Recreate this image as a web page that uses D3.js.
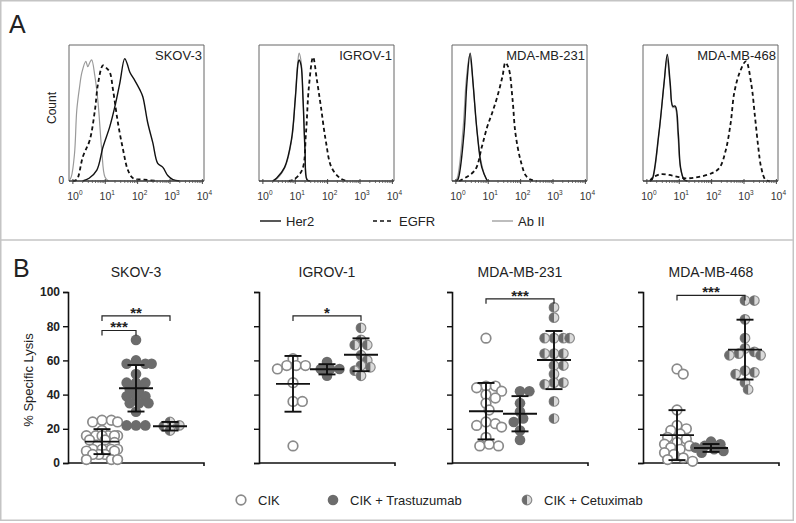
<!DOCTYPE html>
<html><head><meta charset="utf-8">
<script src="https://cdn.jsdelivr.net/npm/d3@7/dist/d3.min.js"></script>
<style>body{margin:0;background:#fff}svg{display:block;font-family:'Liberation Sans',Arial,sans-serif}</style>
</head><body><svg id="c" width="796" height="523"></svg>
<script>
// ---------- Panel A data: flow cytometry histograms (log10 intensity, % of max count)
const cellLines = ["SKOV-3", "IGROV-1", "MDA-MB-231", "MDA-MB-468"];
const histTicks = [0, 1, 2, 3, 4];
const her2Hist = [
  [[0.3,0],[0.5,2],[0.74,8],[0.93,25],[1.14,40],[1.3,55],[1.45,72],[1.6,90],[1.68,86],[1.76,80],[1.91,74],[2.07,67],[2.16,62],[2.31,43],[2.47,28],[2.62,13],[2.78,10],[2.93,4],[3.09,1],[3.3,0]],
  [[0.3,0],[0.42,2],[0.67,10],[0.88,30],[1.0,60],[1.09,87],[1.12,89],[1.18,85],[1.24,60],[1.3,23],[1.36,1],[1.45,0]],
  [[0,0],[0.06,1],[0.25,35],[0.34,72],[0.44,94],[0.53,72],[0.66,35],[0.8,10],[0.97,0]],
  [[0.1,0],[0.16,1],[0.37,35],[0.53,72],[0.63,93],[0.72,72],[0.8,55],[0.88,55],[0.97,35],[1.04,10],[1.15,1],[1.25,0]]
];
const egfrHist = [
  [[0.0,0],[0.12,1],[0.31,18],[0.52,30],[0.68,52],[0.78,72],[0.93,85],[1.04,83],[1.14,80],[1.24,67],[1.39,43],[1.55,23],[1.7,8],[1.86,2],[2.2,1],[2.6,0]],
  [[0.8,0],[0.95,1],[1.21,8],[1.33,35],[1.42,69],[1.55,91],[1.67,74],[1.79,55],[1.94,30],[2.12,10],[2.39,2],[2.6,0]],
  [[0.1,0],[0.19,1],[0.59,8],[0.8,25],[0.97,40],[1.12,50],[1.28,62],[1.44,77],[1.53,87],[1.63,83],[1.75,60],[1.84,35],[2.0,15],[2.16,4],[2.31,1],[2.5,0]],
  [[0.1,0],[0.16,2],[0.41,5],[0.78,4],[1.19,2],[1.61,3],[2.03,6],[2.25,10],[2.44,23],[2.59,43],[2.7,65],[2.87,80],[3.06,88],[3.22,72],[3.34,47],[3.44,25],[3.53,10],[3.66,1],[3.8,0]]
];
const abIIHist = [
  [[-0.12,0],[-0.05,3],[0.05,20],[0.12,52],[0.2,68],[0.28,80],[0.4,88],[0.46,84],[0.52,87],[0.58,89],[0.68,77],[0.78,57],[0.89,23],[0.99,3],[1.1,0]],
  [[0.3,0],[0.45,2],[0.7,11],[0.9,32],[1.0,62],[1.08,88],[1.12,94],[1.18,88],[1.24,62],[1.3,25],[1.37,1],[1.45,0]],
  [[-0.02,0],[0.04,2],[0.22,38],[0.32,74],[0.42,92],[0.5,80],[0.62,45],[0.78,14],[0.95,1],[1.05,0]],
  [[0.1,0],[0.18,2],[0.38,36],[0.54,74],[0.62,90],[0.72,70],[0.8,54],[0.87,54],[0.96,33],[1.04,9],[1.15,1],[1.25,0]]
];
const histLegend = ["Her2", "EGFR", "Ab II"];

// ---------- Panel B data: % specific lysis
const groups = ["CIK", "CIK + Trastuzumab", "CIK + Cetuximab"];
const lysisTicks = [0, 20, 40, 60, 80, 100];
const cikLysis = [
  [25,25,24,24,19,16,16,16,16,16,16,13.5,13.5,12,8,8,8,8,7,7,5,5,5,2,2,2],
  [61,57,57,57,55,47,36,36,10],
  [73,45,44,45,42,40,38,35,31,24,23,22,21,15,11,10,10],
  [55,52,31,22,20,19,17,15,14,12,11,10,9,8,6,5,3,2,1]
];
const trastuzumabLysis = [
  [72,60,58,58,58,52,47,47,47,43,43,39,39,39,35,35,35,30,22,22,22],
  [59,55,55,55,51],
  [42,42,35,30,26,24,19,13.5],
  [12.5,11,10,9,8,7,6]
];
const cetuximabLysis = [
  [24,22,21.5,19],
  [79,72,69,69,63,60,57,56,54,51],
  [91,85,73,73,73,73,64,64,64,57,57,52,47,47,46,36,26],
  [95,95,84,73,67,65,64,63,63,54,53,52,47,43]
];
const lysisMean = [[12.5,43.7,21.5],[46.3,54.8,63.3],[30.3,28.8,60.2],[16.3,8.8,66.3]];
const lysisSD   = [[7.3,13.6,2.5],[16.3,3.0,9.6],[16.5,10.3,17.0],[14.6,2.3,17.5]];
// significance: [groupA, groupB, level(% lysis), label]
const significance = [
  [[0,1,77.5,"***"],[0,2,86,"**"]],
  [[0,2,86,"*"]],
  [[0,2,96,"***"]],
  [[0,2,98,"***"]]
];

// ---------- drawing
const svg = d3.select("#c");
const FONT = "'Liberation Sans',Arial,sans-serif";
svg.append("rect").attr("x",0.75).attr("y",0.75).attr("width",792.5).attr("height",519.5)
  .attr("fill","none").attr("stroke","#c4c4c4").attr("stroke-width",1.5);
svg.append("line").attr("x1",0).attr("x2",794).attr("y1",240).attr("y2",240).attr("stroke","#c4c4c4").attr("stroke-width",1.5);
svg.append("text").attr("x",9).attr("y",33).attr("font-size",25).attr("fill","#222").text("A");
svg.append("text").attr("x",13).attr("y",277).attr("font-size",25).attr("fill","#222").text("B");

const lefts = [69, 259, 452, 643];
const W = 135;
const hTop = 45, hBot = 181;
const yH = d3.scaleLinear().domain([0,100]).range([hBot, hTop]);

cellLines.forEach((name, i) => {
  const g = svg.append("g");
  const x = d3.scaleLinear().domain([-0.12, 4.05]).range([lefts[i], lefts[i]+W]);
  g.append("path").attr("d", `M${lefts[i]},${hBot}V${hTop}H${lefts[i]+W}V${hBot}`)
    .attr("fill","none").attr("stroke","#666").attr("stroke-width",1);
  const line = d3.line().x(d => x(d[0])).y(d => yH(d[1])).curve(d3.curveCatmullRom.alpha(0.5));
  g.append("path").attr("d", line(abIIHist[i])).attr("fill","none").attr("stroke","#9a9a9a").attr("stroke-width",1.2);
  g.append("path").attr("d", line(egfrHist[i])).attr("fill","none").attr("stroke","#111").attr("stroke-width",1.8).attr("stroke-dasharray","4,3");
  g.append("path").attr("d", line(her2Hist[i])).attr("fill","none").attr("stroke","#111").attr("stroke-width",1.4);
  g.append("line").attr("x1",lefts[i]).attr("x2",lefts[i]+W).attr("y1",hBot).attr("y2",hBot).attr("stroke","#333").attr("stroke-width",1.4);
  const minors = [];
  for (let k = 0; k < 4; k++) for (let m = 2; m <= 9; m++) minors.push(k + Math.log10(m));
  g.selectAll(".mn").data(minors).join("line").attr("x1",d=>x(d)).attr("x2",d=>x(d))
    .attr("y1",hBot-1).attr("y2",hBot+2).attr("stroke","#555").attr("stroke-width",0.8);
  g.selectAll(".mj").data(histTicks).join("line").attr("x1",d=>x(d)).attr("x2",d=>x(d))
    .attr("y1",hBot-2).attr("y2",hBot+3).attr("stroke","#444").attr("stroke-width",1);
  const tl = g.selectAll(".tl").data(histTicks).join("text").attr("x",d=>x(d)+2).attr("y",hBot+19)
    .attr("text-anchor","middle").attr("font-size",10.5).attr("fill","#333");
  tl.append("tspan").text("10");
  tl.append("tspan").attr("dy",-5).attr("font-size",6.5).text(d=>d);
  g.append("text").attr("x",lefts[i]+W-2).attr("y",60).attr("text-anchor","end").attr("font-size",13).attr("fill","#222").text(name);
});
svg.append("text").attr("x",64).attr("y",184).attr("text-anchor","end").attr("font-size",10).attr("fill","#222").text("0");
svg.append("text").attr("transform","translate(56,108) rotate(-90)").attr("text-anchor","middle").attr("font-size",12).attr("fill","#222").text("Count");

const hl = [[260,"#111",null,1.4],[373,"#111","4,3",1.6],[492,"#9a9a9a",null,1.3]];
histLegend.forEach((t,i) => {
  svg.append("line").attr("x1",hl[i][0]).attr("x2",hl[i][0]+21).attr("y1",221).attr("y2",221)
    .attr("stroke",hl[i][1]).attr("stroke-width",hl[i][3]).attr("stroke-dasharray",hl[i][2]);
  svg.append("text").attr("x",hl[i][0]+26).attr("y",225.5).attr("font-size",13).attr("fill","#222").text(t);
});

// ---------- Panel B
const yL = d3.scaleLinear().domain([0,100]).range([463, 292]);
const R = 4.8;
const DARK = "#6c6c6c", EDGE = "#8a8a8a", LIGHT = "#dadada";
function drawMarker(sel, type) {
  if (type === 0) {
    sel.append("circle").attr("r",R).attr("fill","#fff").attr("stroke",EDGE).attr("stroke-width",1.7);
  } else if (type === 1) {
    sel.append("circle").attr("r",R+0.5).attr("fill",DARK);
  } else {
    sel.append("circle").attr("r",R).attr("fill",LIGHT).attr("stroke",EDGE).attr("stroke-width",1.2);
    sel.append("path").attr("d",`M0,${-R}A${R},${R} 0 0 0 0,${R}Z`).attr("fill",DARK);
  }
}
function swarm(values) {
  const placed = [];
  const maxOff = 16, step = R * 0.65;
  const items = values.map(v => ({v, y: yL(v)})).sort((a,b)=>a.y-b.y);
  items.forEach(p => {
    let best = 0, bestD = -1;
    for (let k = 0; k < 60; k++) {
      const off = (k % 2 ? 1 : -1) * Math.ceil(k/2) * step;
      if (Math.abs(off) > maxOff) break;
      const d = placed.length ? d3.min(placed, q => Math.hypot(q.dx-off, q.y-p.y)) : 1e9;
      if (d >= R*1.5) { best = off; bestD = d; break; }
      if (d > bestD) { bestD = d; best = off; }
    }
    p.dx = best;
    placed.push(p);
  });
  return placed;
}
const seriesSets = [cikLysis, trastuzumabLysis, cetuximabLysis];
cellLines.forEach((name, i) => {
  const g = svg.append("g");
  const x0 = lefts[i] - (i === 0 ? 1 : 0);
  const xg = d3.scalePoint().domain(groups).range([x0, x0+136]).padding(1);
  const ax = d3.axisLeft(yL).tickValues(lysisTicks).tickSize(5).tickFormat(i === 0 ? d3.format("d") : "");
  const ag = g.append("g").attr("transform",`translate(${x0},0)`).call(ax);
  ag.select(".domain").attr("stroke","#111").attr("stroke-width",1.6);
  ag.selectAll(".tick line").attr("stroke","#111").attr("stroke-width",1.4);
  ag.selectAll(".tick text").attr("font-size",12).attr("font-weight","bold").attr("fill","#222").attr("font-family",FONT);
  g.append("path").attr("d",`M${x0},463H${x0+136}v3`).attr("fill","none").attr("stroke","#111").attr("stroke-width",1.6);
  g.append("text").attr("x",x0+68).attr("y",277).attr("text-anchor","middle").attr("font-size",14).attr("fill","#222").text(name);
  groups.forEach((gr, j) => {
    const cx = xg(gr);
    swarm(seriesSets[j][i]).forEach(p => {
      const m = g.append("g").attr("transform",`translate(${cx+p.dx},${p.y})`);
      drawMarker(m, j);
    });
    const mu = lysisMean[i][j], sd = lysisSD[i][j];
    const eb = g.append("g").attr("stroke","#111").attr("stroke-width",1.9);
    eb.append("line").attr("x1",cx).attr("x2",cx).attr("y1",yL(mu+sd)).attr("y2",yL(Math.max(0,mu-sd)));
    eb.append("line").attr("x1",cx-17).attr("x2",cx+17).attr("y1",yL(mu)).attr("y2",yL(mu));
    eb.append("line").attr("x1",cx-8.5).attr("x2",cx+8.5).attr("y1",yL(mu+sd)).attr("y2",yL(mu+sd));
    if (mu-sd > 0) eb.append("line").attr("x1",cx-8.5).attr("x2",cx+8.5).attr("y1",yL(mu-sd)).attr("y2",yL(mu-sd));
  });
  significance[i].forEach(s => {
    const xa = xg(groups[s[0]]), xb = xg(groups[s[1]]), yy = yL(s[2]);
    g.append("path").attr("d",`M${xa},${yy+5}V${yy}H${xb}V${yy+5}`).attr("fill","none").attr("stroke","#222").attr("stroke-width",1.2);
    g.append("text").attr("x",(xa+xb)/2).attr("y",yy+2).attr("text-anchor","middle").attr("font-size",15).attr("font-weight","bold").attr("fill","#222").text(s[3]);
  });
});
svg.append("text").attr("transform","translate(33,380) rotate(-90)").attr("text-anchor","middle").attr("font-size",13).attr("fill","#222").text("% Specific Lysis");

const lgX = [241, 333, 527];
groups.forEach((gr, j) => {
  const m = svg.append("g").attr("transform",`translate(${lgX[j]},500)`);
  drawMarker(m, j);
  svg.append("text").attr("x",lgX[j]+17).attr("y",505).attr("font-size",13).attr("fill","#222").text(gr);
});
</script></body></html>
